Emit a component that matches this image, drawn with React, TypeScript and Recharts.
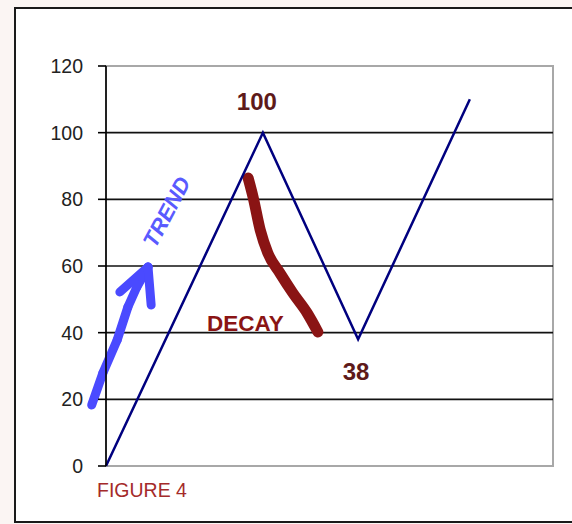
import React from "react";
import {
  LineChart,
  Line,
  XAxis,
  YAxis,
  ReferenceLine,
  ReferenceArea,
  ReferenceDot,
  LabelList,
} from "recharts";

// Main price path
const mainX = [0, 35.1, 56.4, 81.4];
const mainY = [0, 100, 38, 110];
const pointLabels = ["", "100", "38", ""];

// Hand-drawn "decay" stroke
const decayX = [31.8, 32.9, 34.5, 36.2, 38.9, 41.8, 45.0, 47.4];
const decayY = [86.4, 80.7, 70.8, 63.9, 57.9, 51.9, 45.9, 40.2];

// Hand-drawn "trend" arrow
const trendX = [-3.2, -0.7, 2.5, 4.9, 6.9, 9.4];
const trendY = [18.3, 27.9, 37.8, 47.7, 53.7, 59.7];
const arrowHeadX = [3.1, 9.4, 10.1];
const arrowHeadY = [52.2, 59.7, 48.3];

const yTicks = [0, 20, 40, 60, 80, 100, 120];
const gridValues = [20, 40, 60, 80, 100];

const mainData = mainX.map((x, i) => ({ x, y: mainY[i], label: pointLabels[i] }));
const decayData = decayX.map((x, i) => ({ x, y: decayY[i] }));

const FONT = "'Liberation Sans', Arial, sans-serif";
const TREND_COLOR = "#4a4aff";
const DECAY_COLOR = "#8a1414";

const segments = (xs: number[], ys: number[]) =>
  xs.slice(1).map((x, i) => [
    { x: xs[i], y: ys[i] },
    { x, y: ys[i + 1] },
  ]);

const trendSegments = [
  ...segments(trendX, trendY),
  [
    { x: arrowHeadX[0], y: arrowHeadY[0] },
    { x: arrowHeadX[1], y: arrowHeadY[1] },
  ],
  [
    { x: arrowHeadX[1], y: arrowHeadY[1] },
    { x: arrowHeadX[2], y: arrowHeadY[2] },
  ],
];

const PointLabel = (props: any) => {
  const { x, y, value, index } = props;
  if (!value) return null;
  const dy = index === 1 ? -31.5 : 32;
  const dx = index === 1 ? -6 : -2;
  return (
    <text
      x={x + dx}
      y={y + dy}
      textAnchor="middle"
      dominantBaseline="central"
      fontFamily={FONT}
      fontWeight="bold"
      fontSize={24}
      fill="#5e1a1a"
    >
      {value}
    </text>
  );
};

const DecayText = (props: any) => (
  <text
    x={props.cx}
    y={props.cy}
    textAnchor="middle"
    dominantBaseline="central"
    fontFamily={FONT}
    fontWeight="bold"
    fontSize={22.5}
    fill={DECAY_COLOR}
  >
    DECAY
  </text>
);

const TrendText = (props: any) => (
  <text
    x={props.cx}
    y={props.cy}
    textAnchor="middle"
    dominantBaseline="central"
    fontFamily={FONT}
    fontWeight="bold"
    fontStyle="italic"
    fontSize={22}
    fill="#5a5aff"
    transform={`rotate(-62 ${props.cx} ${props.cy})`}
  >
    TREND
  </text>
);

export default function App() {
  return (
    <div
      style={{
        position: "absolute",
        left: 0,
        top: 0,
        width: 572,
        height: 524,
        background: "#fbf5f3",
        overflow: "hidden",
      }}
    >
      <div
        style={{
          position: "absolute",
          left: 14,
          top: 7,
          width: 620,
          height: 512,
          border: "2px solid #1a1a1a",
          background: "#ffffff",
        }}
      />
      <div style={{ position: "absolute", left: 0, top: 0 }}>
        <LineChart
          width={572}
          height={524}
          margin={{ top: 66, right: 19, bottom: 58, left: 46 }}
        >
          <XAxis
            dataKey="x"
            type="number"
            domain={[0, 100]}
            hide
            allowDuplicatedCategory={false}
          />
          <ReferenceArea
            x1={0}
            x2={100}
            y1={0}
            y2={120}
            fill="none"
            stroke="#a8a8a8"
            strokeWidth={2}
          />
          {gridValues.map((v) => (
            <ReferenceLine key={v} y={v} stroke="#111111" strokeWidth={1.6} />
          ))}
          <YAxis
            type="number"
            domain={[0, 120]}
            ticks={yTicks}
            interval={0}
            width={60}
            tickSize={8}
            tickMargin={15}
            axisLine={{ stroke: "#000", strokeWidth: 1.6 }}
            tickLine={{ stroke: "#000", strokeWidth: 1.6 }}
            tick={{ fill: "#222", fontSize: 19.5, fontFamily: FONT }}
          />
          {trendSegments.map((seg, i) => (
            <ReferenceLine
              key={"t" + i}
              segment={seg}
              ifOverflow="visible"
              stroke={TREND_COLOR}
              strokeWidth={9}
              strokeLinecap="round"
            />
          ))}
          <Line
            data={decayData}
            dataKey="y"
            type="monotone"
            stroke={DECAY_COLOR}
            strokeWidth={11}
            strokeLinecap="round"
            dot={false}
            isAnimationActive={false}
          />
          <Line
            data={mainData}
            dataKey="y"
            type="linear"
            stroke="#00007f"
            strokeWidth={2.5}
            dot={false}
            isAnimationActive={false}
          >
            <LabelList dataKey="label" content={PointLabel} />
          </Line>
          <ReferenceDot x={31.2} y={42.75} r={0} shape={DecayText} />
          <ReferenceDot x={13.6} y={76.2} r={0} shape={TrendText} />
        </LineChart>
      </div>
      <div
        style={{
          position: "absolute",
          left: 97,
          top: 479,
          fontFamily: FONT,
          fontSize: 19.5,
          color: "#a42a2a",
          lineHeight: "22px",
          whiteSpace: "nowrap",
        }}
      >
        FIGURE 4
      </div>
    </div>
  );
}
